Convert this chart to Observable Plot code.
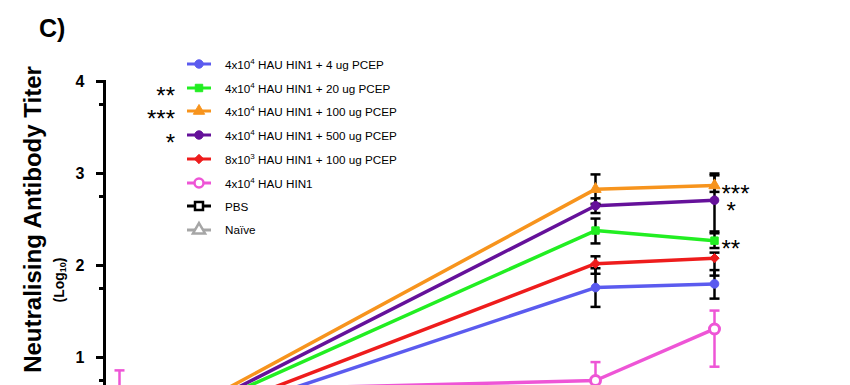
<!DOCTYPE html>
<html>
<head>
<meta charset="utf-8">
<script src="https://cdn.jsdelivr.net/npm/d3@7"></script>
<script src="https://cdn.jsdelivr.net/npm/@observablehq/plot@0.6"></script>
<style>
  body { margin: 0; background: #fff; }
  #wrap { position: relative; width: 850px; height: 385px; overflow: hidden; background: #fff;
          font-family: "Liberation Sans", Arial, sans-serif; }
  #chart { position: absolute; left: 0; top: 0; }
  #panel { position: absolute; left: 39px; top: 14px; font-size: 25px; font-weight: bold; color: #000; }
  #ysub { position: absolute; left: 61px; top: 280px; transform: translate(-50%, -50%) rotate(-90deg);
          font-size: 14px; font-weight: bold; white-space: nowrap; line-height: 16px; color: #000; }
  #ysub sub { font-size: 9px; vertical-align: -2px; }
  .row { position: absolute; left: 187px; height: 14px; display: flex; align-items: center; white-space: nowrap; }
  .row span.lab { margin-left: 12px; font-size: 11.7px; color: #000; }
  .row .sup { font-size: 8px; vertical-align: 5px; }
  .star { position: absolute; font-size: 24px; line-height: 18px; height: 18px; color: #000; }
</style>
</head>
<body>
<div id="wrap">
  <div id="chart"></div>
  <div id="panel">C)</div>
  <div id="ysub"></div>
  <div id="legend"></div>
</div>
<script>
// ---------- data ----------
const timePoints = [0, 4, 5];

const legendBase = ["4x10", "4x10", "4x10", "4x10", "8x10", "4x10", "PBS", "Naïve"];
const legendExp  = ["4", "4", "4", "4", "3", "4", "", ""];
const legendRest = [" HAU HIN1 + 4 ug PCEP", " HAU HIN1 + 20 ug PCEP", " HAU HIN1 + 100 ug PCEP",
                    " HAU HIN1 + 500 ug PCEP", " HAU HIN1 + 100 ug PCEP", " HAU HIN1", "", ""];
const seriesColors  = ["#5b5bef", "#22ee22", "#f7941d", "#65119a", "#ee1c1c", "#ee55d6", "#000000", "#a6a6a6"];
const errorColors   = ["#000000", "#000000", "#000000", "#000000", "#000000", "#ee55d6", "#000000", "#a6a6a6"];
const seriesSymbols = ["circle", "square", "triangle", "circle", "diamond2", "circle", "square", "triangle"];
const seriesHollow  = [false, false, false, false, false, true, true, true];

// log10 titers (mean) at each time point
const titer4ug   = [0.04, 1.76, 1.80];
const titer20ug  = [0.06, 2.38, 2.27];
const titer100ug = [0.03, 2.83, 2.87];
const titer500ug = [0.02, 2.65, 2.71];
const titerLow100 = [0.03, 2.02, 2.08];
const titerAlone = [0.62, 0.75, 1.31];
const titerPBS   = [0.00, 0.00, 0.00];
const titerNaive = [0.00, 0.00, 0.00];

// error bar ends
const low4ug   = [null, 1.55, 1.64], high4ug   = [null, 1.97, 1.95];
const low20ug  = [null, 2.24, 2.19], high20ug  = [null, 2.51, 2.35];
const low100ug = [null, 2.67, 2.80], high100ug = [null, 2.99, 3.00];
const low500ug = [null, 2.57, 2.37], high500ug = [null, 2.73, 2.98];
const lowLow100 = [null, 1.91, 1.89], highLow100 = [null, 2.10, 2.14];
const lowAlone = [0.40, 0.55, 0.90], highAlone = [0.86, 0.95, 1.51];
const lowPBS = [null, null, null], highPBS = [null, null, null];
const lowNaive = [null, null, null], highNaive = [null, null, null];

// significance marks
const sigSeries = [1, 2, 3];
const sigLabels = ["**", "***", "*"];

const yTicks = [1, 2, 3, 4];
const yMinorTicks = [0.75, 1.75, 2.75, 3.75];
const yTitle = "Neutralising Antibody Titer";
const ySubTitleBase = "(Log";
const ySubTitleSub = "10";

// ---------- build ----------
const means = [titer4ug, titer20ug, titer100ug, titer500ug, titerLow100, titerAlone, titerPBS, titerNaive];
const lows  = [low4ug, low20ug, low100ug, low500ug, lowLow100, lowAlone, lowPBS, lowNaive];
const highs = [high4ug, high20ug, high100ug, high500ug, highLow100, highAlone, highPBS, highNaive];

const rows = [];
means.forEach((arr, s) => arr.forEach((v, i) => rows.push({
  s, t: timePoints[i], v, lo: lows[s][i], hi: highs[s][i]
})));

const capSymbol = {
  draw(ctx, size) { const r = Math.sqrt(size / Math.PI); ctx.moveTo(-r, 0); ctx.lineTo(r, 0); }
};

const marks = [];
for (let s = means.length - 1; s >= 0; s--) {
  marks.push(Plot.line(rows.filter(d => d.s === s), {x: "t", y: "v", stroke: seriesColors[s], strokeWidth: 3.5}));
}
for (let s = means.length - 1; s >= 0; s--) {
  const e = rows.filter(d => d.s === s && d.lo != null);
  if (!e.length) continue;
  marks.push(Plot.ruleX(e, {x: "t", y1: "lo", y2: "hi", stroke: errorColors[s], strokeWidth: 2.5}));
  marks.push(Plot.dot(e, {x: "t", y: "lo", symbol: capSymbol, r: 5, stroke: errorColors[s], strokeWidth: 2.5, fill: "none"}));
  marks.push(Plot.dot(e, {x: "t", y: "hi", symbol: capSymbol, r: 5, stroke: errorColors[s], strokeWidth: 2.5, fill: "none"}));
}
for (let s = means.length - 1; s >= 0; s--) {
  const d = rows.filter(r => r.s === s);
  marks.push(Plot.dot(d, {
    x: "t", y: "v", symbol: seriesSymbols[s],
    r: seriesHollow[s] ? 5 : (seriesSymbols[s] === "circle" ? 4.3 : 4.2),
    fill: seriesHollow[s] ? "#fff" : seriesColors[s],
    stroke: seriesColors[s], strokeWidth: seriesHollow[s] ? 3 : 1
  }));
}
const lastT = timePoints[timePoints.length - 1];
const sigRows = sigSeries.map((s, k) => ({t: lastT, v: means[s][means[s].length - 1], lab: sigLabels[k]}));
marks.push(Plot.text(sigRows.filter(d => d.lab.length > 1), {x: "t", y: "v", text: "lab", textAnchor: "start",
  dx: 7, dy: 9, fontSize: 24, fontWeight: "normal"}));
marks.push(Plot.text(sigRows.filter(d => d.lab.length === 1), {x: "t", y: "v", text: "lab", textAnchor: "start",
  dx: 12, dy: 11, fontSize: 24, fontWeight: "normal"}));

marks.push(Plot.frame({anchor: "left", strokeWidth: 3}));
marks.push(Plot.axisY({ticks: yTicks, tickSize: 8, tickPadding: 12, strokeWidth: 3, fontSize: 16,
  fontWeight: "bold", tickFormat: d => String(d), label: null}));
marks.push(Plot.axisY({ticks: yMinorTicks, tickSize: 5, strokeWidth: 3, tickFormat: () => "", label: null}));
marks.push(Plot.text([yTitle], {text: d => d, frameAnchor: "left", textAnchor: "middle", y: () => 2.5, rotate: -90, dx: -71,
  fontSize: 24, fontWeight: "bold"}));

const chart = Plot.plot({
  width: 850, height: 385,
  marginLeft: 104, marginTop: 81, marginBottom: 0, marginRight: 100,
  style: {fontFamily: "'Liberation Sans', Arial, sans-serif", fontWeight: "bold", background: "#fff", color: "#000"},
  x: {domain: [0, 5], range: [119, 714], axis: null},
  y: {domain: [0, 4], range: [449, 81], axis: null},
  marks
});
document.getElementById("chart").appendChild(chart);

document.getElementById("ysub").innerHTML = `${ySubTitleBase}<sub>${ySubTitleSub}</sub>)`;

// ---------- legend ----------
const legend = document.getElementById("legend");
const symMap = {circle: d3.symbolCircle, square: d3.symbolSquare, triangle: d3.symbolTriangle, diamond2: d3.symbolDiamond2};
legendBase.forEach((b, i) => {
  const cy = 64 + i * 23.7;
  const row = document.createElement("div");
  row.className = "row";
  row.style.top = (cy - 7) + "px";
  const r = seriesHollow[i] ? 4.5 : 4.2;
  const path = d3.symbol(symMap[seriesSymbols[i]], Math.PI * r * r)();
  row.innerHTML =
    `<svg width="26" height="14" style="overflow:visible"><line x1="0" x2="24" y1="7" y2="7" stroke="${seriesColors[i]}" stroke-width="3"/>` +
    `<path d="${path}" transform="translate(12,7)" fill="${seriesHollow[i] ? '#fff' : seriesColors[i]}" stroke="${seriesColors[i]}" stroke-width="${seriesHollow[i] ? 2.5 : 1}"/></svg>` +
    `<span class="lab">${b}${legendExp[i] ? `<span class="sup">${legendExp[i]}</span>` : ""}${legendRest[i]}</span>`;
  legend.appendChild(row);
});
sigSeries.forEach((s, k) => {
  const cy = 64 + s * 23.7;
  const st = document.createElement("div");
  st.className = "star";
  st.textContent = sigLabels[k];
  st.style.right = (850 - 175) + "px";
  st.style.top = (cy + 3 - 4) + "px";
  legend.appendChild(st);
});
</script>
</body>
</html>
